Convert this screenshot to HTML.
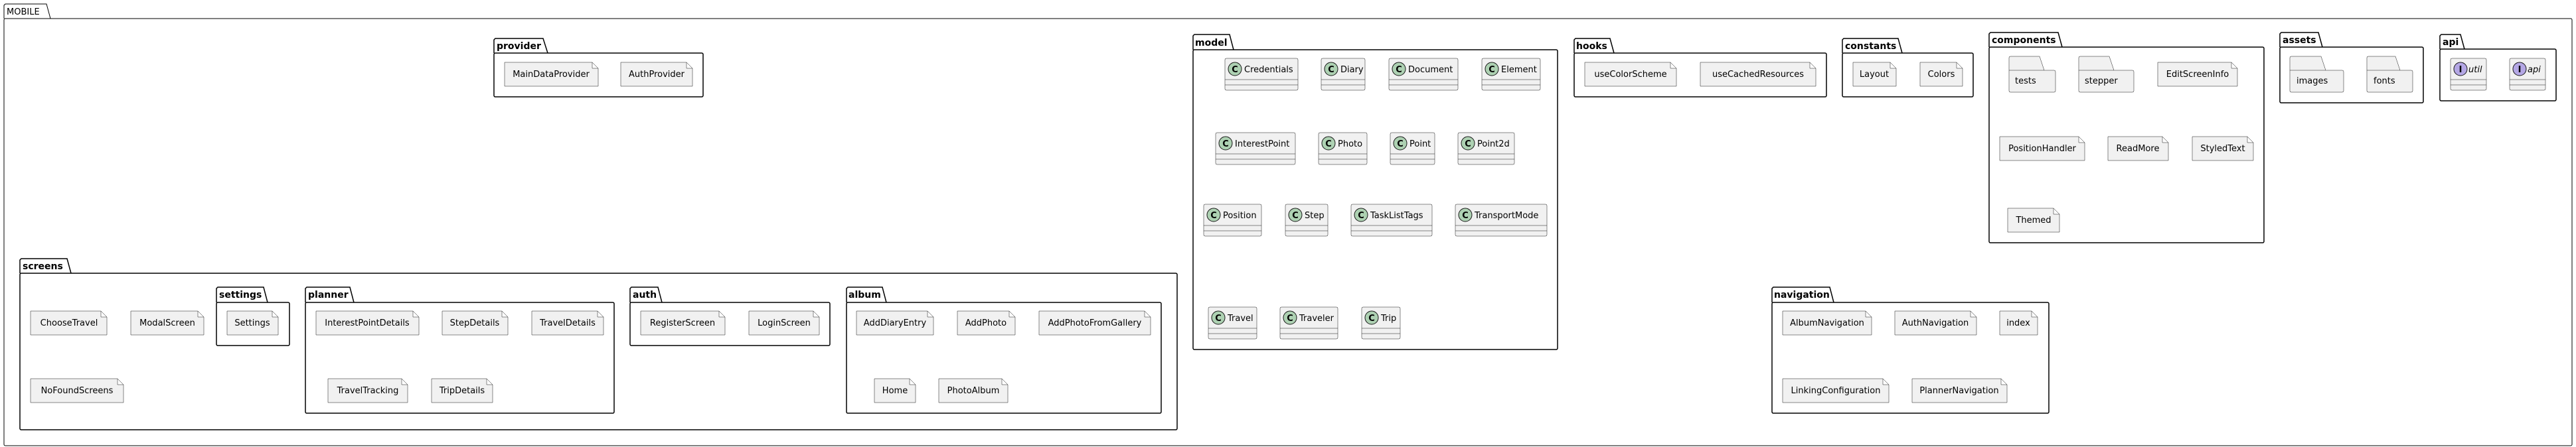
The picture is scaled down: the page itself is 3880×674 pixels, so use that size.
<!DOCTYPE html>
<html><head><meta charset="utf-8"><style>
html,body{margin:0;padding:0;background:#fff;width:3880px;height:674px;overflow:hidden}
svg text{font-family:"DejaVu Sans","Liberation Sans",sans-serif}
.t{font-size:13px;fill:#000}
.p{font-size:14px;font-weight:bold;fill:#000}
.c{font-size:13px;fill:#000}
.pk{fill:none;stroke:#000;stroke-width:1.5}
.nt{fill:#F1F1F1;stroke:#181818;stroke-width:0.5}
.cl{fill:#F1F1F1;stroke:#181818;stroke-width:0.5}
</style></head><body>
<svg width="3880" height="674" viewBox="0 0 3880 674" xmlns="http://www.w3.org/2000/svg">
<defs></defs>
<!-- MOBILE -->
<path class="pk" style="stroke-width:1" d="M6 28 V8 L8 6 H70 L76 28"/><rect class="pk" style="stroke-width:1" x="6" y="28" width="3868" height="644" rx="2"/>
<text x="10" y="22" class="t">MOBILE</text>

<!-- packages -->
<g>
<path class="pk" d="M744 80 V60 L746 58 H818 L825 80"/><rect class="pk" x="744" y="80" width="315" height="66" rx="2"/><text x="748" y="74" class="p">provider</text>
<path class="pk" d="M1797 75 V54 L1799 52 H1852 L1858 75"/><rect class="pk" x="1797" y="75" width="549" height="452" rx="2"/><text x="1800" y="69" class="p">model</text>
<path class="pk" d="M2371 80 V60 L2373 58 H2425 L2431 80"/><rect class="pk" x="2371" y="80" width="380" height="66" rx="2"/><text x="2374" y="74" class="p">hooks</text>
<path class="pk" d="M2775 80 V60 L2777 58 H2859 L2865 80"/><rect class="pk" x="2775" y="80" width="197" height="66" rx="2"/><text x="2779" y="74" class="p">constants</text>
<path class="pk" d="M2996 71 V51 L2998 49 H3100 L3106 71"/><rect class="pk" x="2996" y="71" width="414" height="295" rx="2"/><text x="3000" y="65" class="p">components</text>
<path class="pk" d="M3434 71 V51 L3436 49 H3492 L3498 71"/><rect class="pk" x="3434" y="71" width="216" height="84" rx="2"/><text x="3438" y="65" class="p">assets</text>
<path class="pk" d="M3675 74 V54 L3677 52 H3706 L3712 74"/><rect class="pk" x="3675" y="74" width="175" height="78" rx="2"/><text x="3679" y="68" class="p">api</text>
<path class="pk" d="M30 412 V392 L32 390 H101 L107 412"/><rect class="pk" x="30" y="412" width="1743" height="236" rx="2"/><text x="34" y="406" class="p">screens</text>
<path class="pk" d="M326 456 V435 L328 433 H397 L403 456"/><rect class="pk" x="326" y="456" width="110" height="65" rx="2"/><text x="330" y="449" class="p">settings</text>
<path class="pk" d="M460 456 V435 L462 433 H527 L533 456"/><rect class="pk" x="460" y="456" width="465" height="167" rx="2"/><text x="464" y="449" class="p">planner</text>
<path class="pk" d="M949 456 V435 L951 433 H991 L997 456"/><rect class="pk" x="949" y="456" width="301" height="65" rx="2"/><text x="953" y="449" class="p">auth</text>
<path class="pk" d="M1275 456 V435 L1277 433 H1329 L1335 456"/><rect class="pk" x="1275" y="456" width="474" height="167" rx="2"/><text x="1278" y="449" class="p">album</text>
<path class="pk" d="M2669 456 V435 L2671 433 H2756 L2762 456"/><rect class="pk" x="2669" y="456" width="417" height="167" rx="2"/><text x="2672" y="449" class="p">navigation</text>
</g>

<!-- notes -->
<g>
<path class="nt" d="M760 94 H892 L901 103 V130 H760 Z M892 94 V103 H901"/><text x="830" y="116" text-anchor="middle" class="t">MainDataProvider</text>
<path class="nt" d="M935 94 H1034 L1043 103 V130 H935 Z M1034 94 V103 H1043"/><text x="989" y="116" text-anchor="middle" class="t">AuthProvider</text>
<path class="nt" d="M2387 94 H2516 L2525 103 V130 H2387 Z M2516 94 V103 H2525"/><text x="2456" y="116" text-anchor="middle" class="t">useColorScheme</text>
<path class="nt" d="M2561 94 H2726 L2735 103 V130 H2561 Z M2726 94 V103 H2735"/><text x="2648" y="116" text-anchor="middle" class="t">useCachedResources</text>
<path class="nt" d="M2791 94 H2847 L2856 103 V130 H2791 Z M2847 94 V103 H2856"/><text x="2823" y="116" text-anchor="middle" class="t">Layout</text>
<path class="nt" d="M2892 94 H2947 L2956 103 V130 H2892 Z M2947 94 V103 H2956"/><text x="2924" y="116" text-anchor="middle" class="t">Colors</text>
<path class="nt" d="M3250 94 H3361 L3370 103 V130 H3250 Z M3361 94 V103 H3370"/><text x="3310" y="116" text-anchor="middle" class="t">EditScreenInfo</text>
<path class="nt" d="M3012 206 H3131 L3140 215 V242 H3012 Z M3131 206 V215 H3140"/><text x="3076" y="228" text-anchor="middle" class="t">PositionHandler</text>
<path class="nt" d="M3175 206 H3257 L3266 215 V242 H3175 Z M3257 206 V215 H3266"/><text x="3220" y="228" text-anchor="middle" class="t">ReadMore</text>
<path class="nt" d="M3302 206 H3385 L3394 215 V242 H3302 Z M3385 206 V215 H3394"/><text x="3348" y="228" text-anchor="middle" class="t">StyledText</text>
<path class="nt" d="M3024 314 H3093 L3102 323 V350 H3024 Z M3093 314 V323 H3102"/><text x="3063" y="336" text-anchor="middle" class="t">Themed</text>

<path class="nt" d="M46 469 H152 L161 478 V505 H46 Z M152 469 V478 H161"/><text x="104" y="491" text-anchor="middle" class="t">ChooseTravel</text>
<path class="nt" d="M197 469 H298 L307 478 V505 H197 Z M298 469 V478 H307"/><text x="252" y="491" text-anchor="middle" class="t">ModalScreen</text>
<path class="nt" d="M46 571 H177 L186 580 V607 H46 Z M177 571 V580 H186"/><text x="116" y="593" text-anchor="middle" class="t">NoFoundScreens</text>
<path class="nt" d="M342 469 H410 L419 478 V505 H342 Z M410 469 V478 H419"/><text x="380" y="491" text-anchor="middle" class="t">Settings</text>
<path class="nt" d="M476 469 H622 L631 478 V505 H476 Z M622 469 V478 H631"/><text x="553" y="491" text-anchor="middle" class="t">InterestPointDetails</text>
<path class="nt" d="M666 469 H756 L765 478 V505 H666 Z M756 469 V478 H765"/><text x="715" y="491" text-anchor="middle" class="t">StepDetails</text>
<path class="nt" d="M801 469 H900 L909 478 V505 H801 Z M900 469 V478 H909"/><text x="855" y="491" text-anchor="middle" class="t">TravelDetails</text>
<path class="nt" d="M494 571 H605 L614 580 V607 H494 Z M605 571 V580 H614"/><text x="554" y="593" text-anchor="middle" class="t">TravelTracking</text>
<path class="nt" d="M650 571 H733 L742 580 V607 H650 Z M733 571 V580 H742"/><text x="696" y="593" text-anchor="middle" class="t">TripDetails</text>
<path class="nt" d="M965 469 H1083 L1092 478 V505 H965 Z M1083 469 V478 H1092"/><text x="1028" y="491" text-anchor="middle" class="t">RegisterScreen</text>
<path class="nt" d="M1128 469 H1225 L1234 478 V505 H1128 Z M1225 469 V478 H1234"/><text x="1181" y="491" text-anchor="middle" class="t">LoginScreen</text>
<path class="nt" d="M1290 469 H1397 L1406 478 V505 H1290 Z M1397 469 V478 H1406"/><text x="1348" y="491" text-anchor="middle" class="t">AddDiaryEntry</text>
<path class="nt" d="M1442 469 H1520 L1529 478 V505 H1442 Z M1520 469 V478 H1529"/><text x="1485" y="491" text-anchor="middle" class="t">AddPhoto</text>
<path class="nt" d="M1565 469 H1724 L1733 478 V505 H1565 Z M1724 469 V478 H1733"/><text x="1649" y="491" text-anchor="middle" class="t">AddPhotoFromGallery</text>
<path class="nt" d="M1317 571 H1370 L1379 580 V607 H1317 Z M1370 571 V580 H1379"/><text x="1348" y="593" text-anchor="middle" class="t">Home</text>
<path class="nt" d="M1414 571 H1509 L1518 580 V607 H1414 Z M1509 571 V580 H1518"/><text x="1466" y="593" text-anchor="middle" class="t">PhotoAlbum</text>
<path class="nt" d="M2685 469 H2810 L2819 478 V505 H2685 Z M2810 469 V478 H2819"/><text x="2752" y="491" text-anchor="middle" class="t">AlbumNavigation</text>
<path class="nt" d="M2854 469 H2968 L2977 478 V505 H2854 Z M2968 469 V478 H2977"/><text x="2915" y="491" text-anchor="middle" class="t">AuthNavigation</text>
<path class="nt" d="M3012 469 H3060 L3069 478 V505 H3012 Z M3060 469 V478 H3069"/><text x="3040" y="491" text-anchor="middle" class="t">index</text>
<path class="nt" d="M2685 571 H2836 L2845 580 V607 H2685 Z M2836 571 V580 H2845"/><text x="2765" y="593" text-anchor="middle" class="t">LinkingConfiguration</text>
<path class="nt" d="M2880 571 H3014 L3023 580 V607 H2880 Z M3014 571 V580 H3023"/><text x="2951" y="593" text-anchor="middle" class="t">PlannerNavigation</text>
</g>

<!-- folders -->
<g>
<path class="nt" d="M3026 106 V87 Q3026 85 3028 85 H3072 L3079 106 M3026 106 H3094 Q3096 106 3096 108 V137 Q3096 139 3094 139 H3028 Q3026 139 3026 137 Z"/><text x="3035" y="126" class="t">tests</text>
<path class="nt" d="M3131 106 V87 Q3131 85 3133 85 H3177 L3184 106 M3131 106 H3212 Q3214 106 3214 108 V137 Q3214 139 3212 139 H3133 Q3131 139 3131 137 Z"/><text x="3140" y="126" class="t">stepper</text>
<path class="nt" d="M3449 106 V87 Q3449 85 3451 85 H3496 L3503 106 M3449 106 H3528 Q3530 106 3530 108 V137 Q3530 139 3528 139 H3451 Q3449 139 3449 137 Z"/><text x="3459" y="126" class="t">images</text>
<path class="nt" d="M3565 106 V87 Q3565 85 3567 85 H3608 L3615 106 M3565 106 H3632 Q3634 106 3634 108 V137 Q3634 139 3632 139 H3567 Q3565 139 3565 137 Z"/><text x="3575" y="126" class="t">fonts</text>
</g>

<!-- classes -->
<g>
<!-- row1 y 88 -->
<g transform="translate(1845,88)"><rect class="cl" width="110" height="48" rx="2"/><path d="M0 32H110M0 40H110" stroke="#181818" stroke-width="0.5"/><circle cx="15" cy="16" r="10" fill="#ADD1B2" stroke="#181818" stroke-width="1"/><text x="15" y="21" text-anchor="middle" style="font-size:13px;font-weight:bold">C</text><text x="29" y="21" class="c">Credentials</text></g>
<g transform="translate(1990,88)"><rect class="cl" width="66" height="48" rx="2"/><path d="M0 32H66M0 40H66" stroke="#181818" stroke-width="0.5"/><circle cx="15" cy="16" r="10" fill="#ADD1B2" stroke="#181818" stroke-width="1"/><text x="15" y="21" text-anchor="middle" style="font-size:13px;font-weight:bold">C</text><text x="29" y="21" class="c">Diary</text></g>
<g transform="translate(2092,88)"><rect class="cl" width="104" height="48" rx="2"/><path d="M0 32H104M0 40H104" stroke="#181818" stroke-width="0.5"/><circle cx="15" cy="16" r="10" fill="#ADD1B2" stroke="#181818" stroke-width="1"/><text x="15" y="21" text-anchor="middle" style="font-size:13px;font-weight:bold">C</text><text x="29" y="21" class="c">Document</text></g>
<g transform="translate(2232,88)"><rect class="cl" width="88" height="48" rx="2"/><path d="M0 32H88M0 40H88" stroke="#181818" stroke-width="0.5"/><circle cx="15" cy="16" r="10" fill="#ADD1B2" stroke="#181818" stroke-width="1"/><text x="15" y="21" text-anchor="middle" style="font-size:13px;font-weight:bold">C</text><text x="29" y="21" class="c">Element</text></g>
<!-- row2 y 200 -->
<g transform="translate(1831,200)"><rect class="cl" width="120" height="48" rx="2"/><path d="M0 32H120M0 40H120" stroke="#181818" stroke-width="0.5"/><circle cx="15" cy="16" r="10" fill="#ADD1B2" stroke="#181818" stroke-width="1"/><text x="15" y="21" text-anchor="middle" style="font-size:13px;font-weight:bold">C</text><text x="29" y="21" class="c">InterestPoint</text></g>
<g transform="translate(1986,200)"><rect class="cl" width="73" height="48" rx="2"/><path d="M0 32H73M0 40H73" stroke="#181818" stroke-width="0.5"/><circle cx="15" cy="16" r="10" fill="#ADD1B2" stroke="#181818" stroke-width="1"/><text x="15" y="21" text-anchor="middle" style="font-size:13px;font-weight:bold">C</text><text x="29" y="21" class="c">Photo</text></g>
<g transform="translate(2094,200)"><rect class="cl" width="67" height="48" rx="2"/><path d="M0 32H67M0 40H67" stroke="#181818" stroke-width="0.5"/><circle cx="15" cy="16" r="10" fill="#ADD1B2" stroke="#181818" stroke-width="1"/><text x="15" y="21" text-anchor="middle" style="font-size:13px;font-weight:bold">C</text><text x="29" y="21" class="c">Point</text></g>
<g transform="translate(2196,200)"><rect class="cl" width="85" height="48" rx="2"/><path d="M0 32H85M0 40H85" stroke="#181818" stroke-width="0.5"/><circle cx="15" cy="16" r="10" fill="#ADD1B2" stroke="#181818" stroke-width="1"/><text x="15" y="21" text-anchor="middle" style="font-size:13px;font-weight:bold">C</text><text x="29" y="21" class="c">Point2d</text></g>
<!-- row3 y 308 -->
<g transform="translate(1813,308)"><rect class="cl" width="87" height="48" rx="2"/><path d="M0 32H87M0 40H87" stroke="#181818" stroke-width="0.5"/><circle cx="15" cy="16" r="10" fill="#ADD1B2" stroke="#181818" stroke-width="1"/><text x="15" y="21" text-anchor="middle" style="font-size:13px;font-weight:bold">C</text><text x="29" y="21" class="c">Position</text></g>
<g transform="translate(1936,308)"><rect class="cl" width="64" height="48" rx="2"/><path d="M0 32H64M0 40H64" stroke="#181818" stroke-width="0.5"/><circle cx="15" cy="16" r="10" fill="#ADD1B2" stroke="#181818" stroke-width="1"/><text x="15" y="21" text-anchor="middle" style="font-size:13px;font-weight:bold">C</text><text x="29" y="21" class="c">Step</text></g>
<g transform="translate(2035,308)"><rect class="cl" width="122" height="48" rx="2"/><path d="M0 32H122M0 40H122" stroke="#181818" stroke-width="0.5"/><circle cx="15" cy="16" r="10" fill="#ADD1B2" stroke="#181818" stroke-width="1"/><text x="15" y="21" text-anchor="middle" style="font-size:13px;font-weight:bold">C</text><text x="29" y="21" class="c">TaskListTags</text></g>
<g transform="translate(2192,308)"><rect class="cl" width="138" height="48" rx="2"/><path d="M0 32H138M0 40H138" stroke="#181818" stroke-width="0.5"/><circle cx="15" cy="16" r="10" fill="#ADD1B2" stroke="#181818" stroke-width="1"/><text x="15" y="21" text-anchor="middle" style="font-size:13px;font-weight:bold">C</text><text x="29" y="21" class="c">TransportMode</text></g>
<!-- row4 y 463 -->
<g transform="translate(1820,463)"><rect class="cl" width="73" height="48" rx="2"/><path d="M0 32H73M0 40H73" stroke="#181818" stroke-width="0.5"/><circle cx="15" cy="16" r="10" fill="#ADD1B2" stroke="#181818" stroke-width="1"/><text x="15" y="21" text-anchor="middle" style="font-size:13px;font-weight:bold">C</text><text x="29" y="21" class="c">Travel</text></g>
<g transform="translate(1928,463)"><rect class="cl" width="87" height="48" rx="2"/><path d="M0 32H87M0 40H87" stroke="#181818" stroke-width="0.5"/><circle cx="15" cy="16" r="10" fill="#ADD1B2" stroke="#181818" stroke-width="1"/><text x="15" y="21" text-anchor="middle" style="font-size:13px;font-weight:bold">C</text><text x="29" y="21" class="c">Traveler</text></g>
<g transform="translate(2051,463)"><rect class="cl" width="58" height="48" rx="2"/><path d="M0 32H58M0 40H58" stroke="#181818" stroke-width="0.5"/><circle cx="15" cy="16" r="10" fill="#ADD1B2" stroke="#181818" stroke-width="1"/><text x="15" y="21" text-anchor="middle" style="font-size:13px;font-weight:bold">C</text><text x="29" y="21" class="c">Trip</text></g>
<!-- interfaces -->
<g transform="translate(3691,88)"><rect class="cl" width="54" height="48" rx="2"/><path d="M0 32H54M0 40H54" stroke="#181818" stroke-width="0.5"/><circle cx="15" cy="16" r="10" fill="#B4A7E5" stroke="#181818" stroke-width="1"/><text x="15" y="21" text-anchor="middle" style="font-size:13px;font-weight:bold">I</text><text x="27" y="21" class="c" font-style="italic">util</text></g>
<g transform="translate(3780,88)"><rect class="cl" width="54" height="48" rx="2"/><path d="M0 32H54M0 40H54" stroke="#181818" stroke-width="0.5"/><circle cx="15" cy="16" r="10" fill="#B4A7E5" stroke="#181818" stroke-width="1"/><text x="15" y="21" text-anchor="middle" style="font-size:13px;font-weight:bold">I</text><text x="27" y="21" class="c" font-style="italic">api</text></g>
</g>
</svg>
</body></html>
